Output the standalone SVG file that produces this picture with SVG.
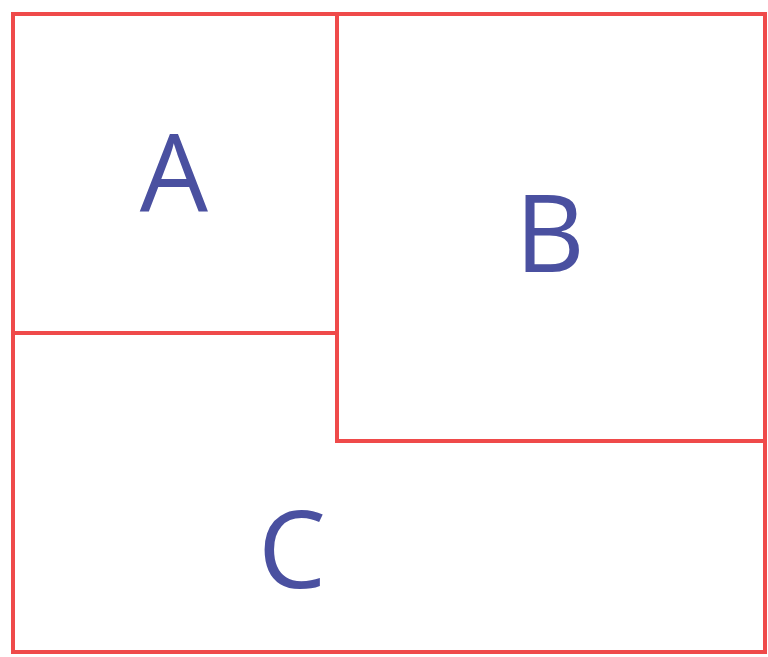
<svg xmlns="http://www.w3.org/2000/svg" width="768" height="657" viewBox="0 0 768 657">
<style>
.ln{stroke:#ef4a4a;stroke-width:4;fill:none;stroke-linecap:square}
.lb{font-family:"Open Sans","Noto Sans","Liberation Sans",sans-serif;font-size:108px;fill:#4a50a0;text-anchor:middle}
</style>
<rect width="768" height="657" fill="#ffffff"/>
<g id="connectors">
<rect class="ln" x="13" y="14" width="752" height="638"/>
<line class="ln" x1="337" y1="14" x2="337" y2="441"/>
<line class="ln" x1="13" y1="333" x2="337" y2="333"/>
<line class="ln" x1="337" y1="441" x2="765" y2="441"/>
</g>
<g id="A"><text class="lb" x="174" y="212">A</text></g>
<g id="B"><text class="lb" x="550" y="272">B</text></g>
<g id="C"><text class="lb" x="292" y="588">C</text></g>
</svg>
